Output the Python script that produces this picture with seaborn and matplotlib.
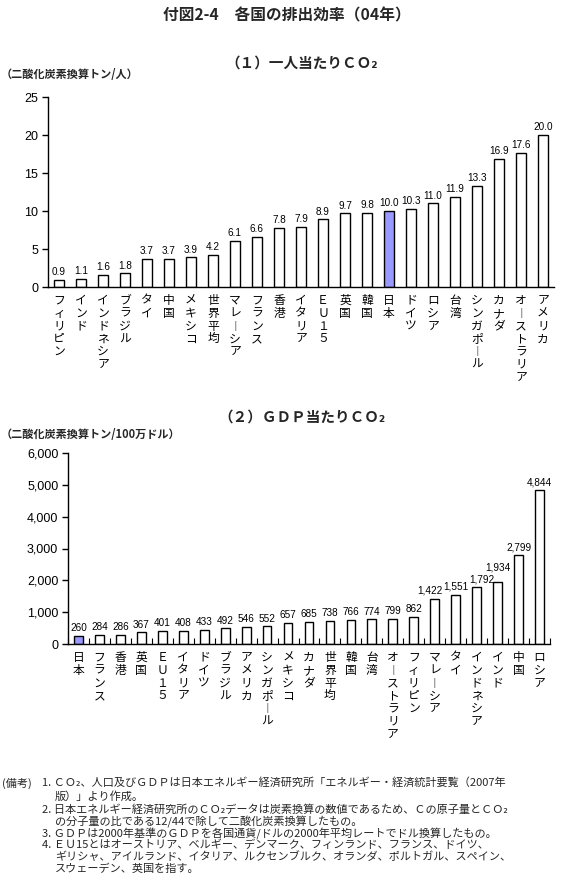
import numpy as np
import pandas as pd
import matplotlib
matplotlib.use("Agg")
import matplotlib.pyplot as plt
import seaborn as sns

# ---------------- data ----------------
TITLE = "付図2-4　各国の排出効率（04年）"
SUB1 = "（１）一人当たりＣＯ₂"
SUB2 = "（２）ＧＤＰ当たりＣＯ₂"
UNIT1 = "（二酸化炭素換算トン/人）"
UNIT2 = "（二酸化炭素換算トン/100万ドル）"

pc_countries = ["フィリピン", "インド", "インドネシア", "ブラジル", "タイ", "中国", "メキシコ",
                "世界平均", "マレーシア", "フランス", "香港", "イタリア", "ＥＵ１５", "英国",
                "韓国", "日本", "ドイツ", "ロシア", "台湾", "シンガポール", "カナダ",
                "オーストラリア", "アメリカ"]
pc_values = [0.9, 1.1, 1.6, 1.8, 3.7, 3.7, 3.9, 4.2, 6.1, 6.6, 7.8, 7.9, 8.9, 9.7,
             9.8, 10.0, 10.3, 11.0, 11.9, 13.3, 16.9, 17.6, 20.0]

gdp_countries = ["日本", "フランス", "香港", "英国", "ＥＵ１５", "イタリア", "ドイツ", "ブラジル",
                 "アメリカ", "シンガポール", "メキシコ", "カナダ", "世界平均", "韓国", "台湾",
                 "オーストラリア", "フィリピン", "マレーシア", "タイ", "インドネシア", "インド",
                 "中国", "ロシア"]
gdp_values = [260, 284, 286, 367, 401, 408, 433, 492, 546, 552, 657, 685, 738, 766, 774,
              799, 862, 1422, 1551, 1792, 1934, 2799, 4844]

highlight = "日本"
y1_ticks = [0, 5, 10, 15, 20, 25]
y2_ticks = [0, 1000, 2000, 3000, 4000, 5000, 6000]

notes_head = "(備考)"
notes = [
    ("1. ＣＯ₂、人口及びＧＤＰは日本エネルギー経済研究所「エネルギー・経済統計要覧（2007年", 0),
    ("版）」より作成。", 1),
    ("2. 日本エネルギー経済研究所のＣＯ₂データは炭素換算の数値であるため、Ｃの原子量とＣＯ₂", 0),
    ("の分子量の比である12/44で除して二酸化炭素換算したもの。", 1),
    ("3. ＧＤＰは2000年基準のＧＤＰを各国通貨/ドルの2000年平均レートでドル換算したもの。", 0),
    ("4. ＥＵ15とはオーストリア、ベルギー、デンマーク、フィンランド、フランス、ドイツ、", 0),
    ("ギリシャ、アイルランド、イタリア、ルクセンブルク、オランダ、ポルトガル、スペイン、", 1),
    ("スウェーデン、英国を指す。", 1),
]

# ---------------- style ----------------
sns.set_theme(style="white")
plt.rcParams['font.family'] = ['Noto Sans CJK JP', 'DejaVu Sans']
NUMFONT = ['Liberation Sans', 'DejaVu Sans']
JFONT = ['Noto Sans CJK JP', 'DejaVu Sans']
HL_COLOR = "#9999FF"
# hand-placed value label nudges (pixels: dx, extra dy) as in the reference
LABEL_NUDGE2 = {"マレーシア": (-5, 0), "インドネシア": (5, 0), "インド": (0, 7)}

W, H = 574, 896
PT = 0.72  # points per pixel at 100 dpi
fig = plt.figure(figsize=(W / 100, H / 100), dpi=100)
fig.patch.set_facecolor("white")


def px_axes(l, t, r, b):
    return fig.add_axes([l / W, 1 - b / H, (r - l) / W, (b - t) / H])


def ftext(x, y, s, **kw):
    return fig.text(x / W, 1 - y / H, s, **kw)


def vert(s):
    return "\n".join("︱" if c == "ー" else c for c in s)


def draw(ax, countries, values, yticks, ylabels, fmt, boundary_ticks, nudge):
    df = pd.DataFrame({"country": countries, "value": values})
    pal = {c: (HL_COLOR if c == highlight else "white") for c in countries}
    sns.barplot(data=df, x="country", y="value", hue="country", order=countries,
                hue_order=countries, palette=pal, dodge=False, legend=False,
                width=0.42, edgecolor="black", linewidth=1.0, saturation=1, ax=ax)
    n = len(countries)
    ax.set_xlim(-0.5, n - 0.5)
    ax.set_ylim(yticks[0], yticks[-1])
    ax.set_xlabel("")
    ax.set_ylabel("")
    ax.set_facecolor("white")
    sns.despine(ax=ax)
    for sp in ("left", "bottom"):
        ax.spines[sp].set_color("black")
        ax.spines[sp].set_linewidth(1.0)
    ax.set_yticks(yticks)
    ax.set_yticklabels(ylabels, fontsize=9, family=NUMFONT, color="black")
    ax.tick_params(axis="y", left=True, direction="out", length=4, width=1,
                   color="black", pad=3)
    ax.set_xticks(range(n))
    ax.set_xticklabels([vert(c) for c in countries], fontsize=8.5, family=JFONT,
                       linespacing=0.98, color="black")
    ax.tick_params(axis="x", which="major", bottom=False, length=0, pad=5)
    if boundary_ticks:
        ax.set_xticks(np.arange(-0.5, n, 1), minor=True)
        ax.tick_params(axis="x", which="minor", bottom=True, direction="in",
                       length=4, width=0.8, color="black")
    for cont, c in zip(ax.containers, countries):
        anns = ax.bar_label(cont, fmt=fmt, padding=2, fontsize=7.2, family=NUMFONT,
                            color="black")
        if c in nudge:
            dx, dy = nudge[c]
            for a in anns:
                ox, oy = a.xyann
                a.xyann = (ox + dx * PT, oy + dy * PT)
    ax.grid(False)


ax1 = px_axes(48, 97, 554, 287)
draw(ax1, pc_countries, pc_values, y1_ticks, [str(v) for v in y1_ticks], "{:.1f}", False, {})

ax2 = px_axes(68, 453, 550, 644)
draw(ax2, gdp_countries, gdp_values, y2_ticks, [f"{v:,}" for v in y2_ticks], "{:,.0f}", True,
     LABEL_NUDGE2)

# titles & labels
ftext(287, 15, TITLE, ha="center", va="center", fontsize=11.3, fontweight="bold")
ftext(302, 63, SUB1, ha="center", va="center", fontsize=10.5, fontweight="bold")
ftext(302, 417, SUB2, ha="center", va="center", fontsize=10.5, fontweight="bold")
ftext(1, 75, UNIT1, ha="left", va="center", fontsize=8, fontweight="bold")
ftext(1, 435, UNIT2, ha="left", va="center", fontsize=8, fontweight="bold")

# notes
ftext(2, 783, notes_head, ha="left", va="center", fontsize=8)
ys = [783, 796, 810, 822, 834, 845, 857, 869]
for (line, indent), y in zip(notes, ys):
    ftext(42 if indent == 0 else 55, y, line, ha="left", va="center", fontsize=8)

fig.savefig("out.png", dpi=100, facecolor="white")
